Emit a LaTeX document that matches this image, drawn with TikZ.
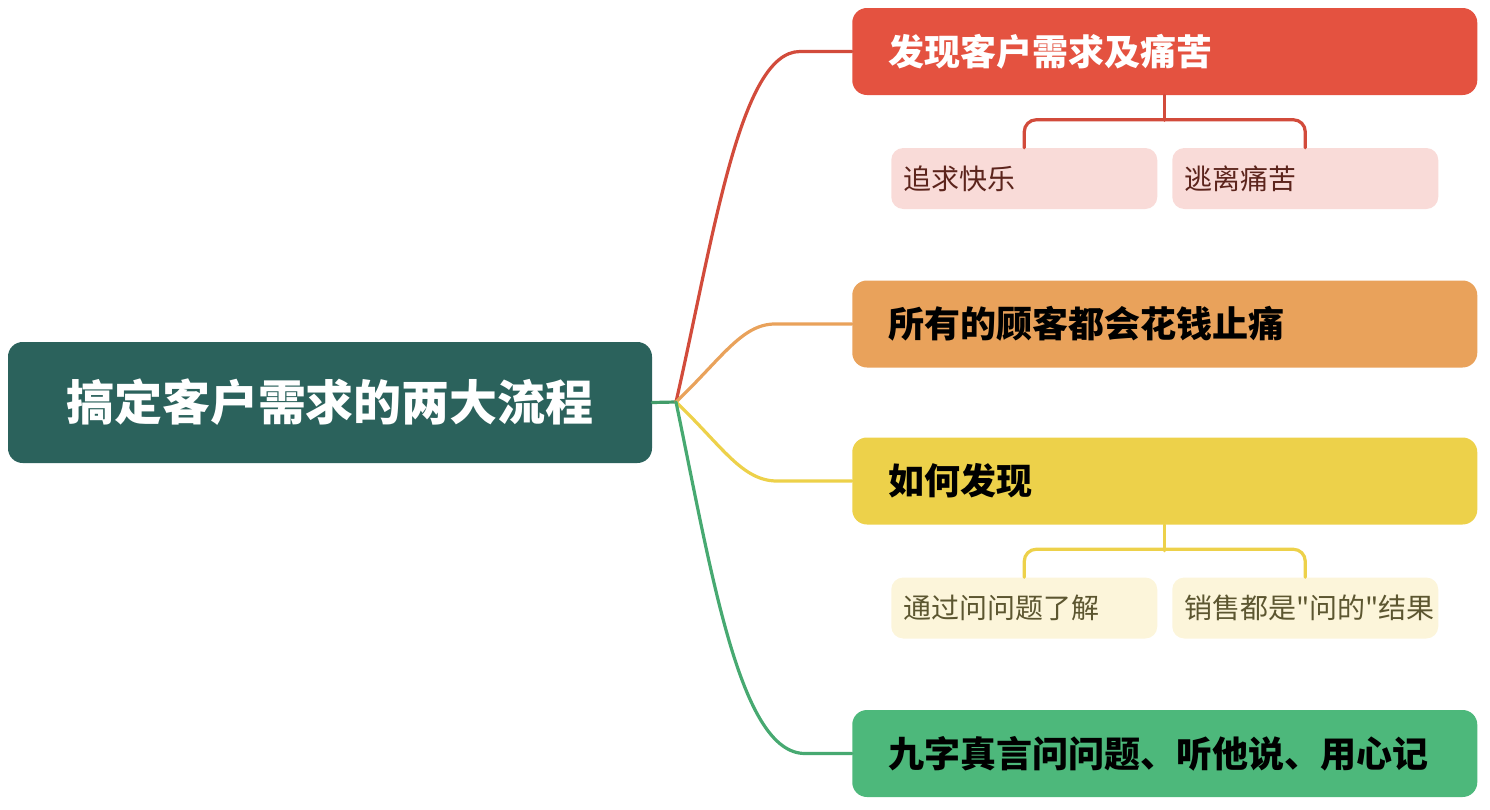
\documentclass[tikz,border=0pt]{standalone}
\usepackage{fontspec}
\setmainfont{Noto Sans CJK SC}[Ligatures=TeXOff]
\definecolor{rootfill}{RGB}{43,98,92}
\definecolor{redfill}{RGB}{228,82,64}
\definecolor{orangefill}{RGB}{233,162,91}
\definecolor{yellowfill}{RGB}{237,209,74}
\definecolor{greenfill}{RGB}{77,184,123}
\definecolor{pinkfill}{RGB}{249,219,216}
\definecolor{creamfill}{RGB}{252,245,218}
\definecolor{redtext}{RGB}{92,36,28}
\definecolor{olivetext}{RGB}{92,86,48}
\tikzset{
  topic/.style={rounded corners=11pt, minimum width=468.75pt, minimum height=65.25pt, inner xsep=27pt, inner ysep=0pt, text width=414.75pt, align=left, anchor=west, font=\bfseries\fontsize{27}{30}\selectfont},
  subtopic/.style={rounded corners=9pt, minimum width=199.5pt, minimum height=45.75pt, inner xsep=9pt, inner ysep=0pt, text width=181.5pt, align=left, anchor=west, font=\fontsize{21}{24}\selectfont},
  link/.style={line width=2.4pt, line cap=round}
}
\begin{document}
\begin{tikzpicture}[x=0.75pt,y=0.75pt,yscale=-1,xscale=1]
\useasboundingbox (0,0) rectangle (1490,810);

%Shape: Root [id:root]
\node [fill=rootfill, text=white, rounded corners=11pt, minimum width=483pt, minimum height=90.75pt, font=\bfseries\fontsize{36}{40}\selectfont] (root) at (330,402.5) {搞定客户需求的两大流程};
\coordinate (hub) at (676,402);

%Shape: Topics
\node [topic, fill=redfill, text=white] (t1) at (852,51.5) {发现客户需求及痛苦};
\node [topic, fill=orangefill, text=black] (t2) at (852,324) {所有的顾客都会花钱止痛};
\node [topic, fill=yellowfill, text=black] (t3) at (852,481) {如何发现};
\node [topic, fill=greenfill, text=black] (t4) at (852,753.5) {九字真言问问题、听他说、用心记};

%Shape: Subtopics
\node [subtopic, fill=pinkfill, text=redtext] (s11) at (891,178.5) {追求快乐};
\node [subtopic, fill=pinkfill, text=redtext] (s12) at (1172,178.5) {逃离痛苦};
\node [subtopic, fill=creamfill, text=olivetext] (s31) at (891,608) {通过问问题了解};
\node [subtopic, fill=creamfill, text=olivetext] (s32) at (1172,608) {销售都是"问的"结果};

%Curve Lines
\draw [link, greenfill!85!black] (root.east) -- (hub);
\draw [link, redfill!92!black] (hub) .. controls (714,235) and (740,51.5) .. (800,51.5) -- (t1.west);
\draw [link, orangefill] (hub) .. controls (722,358) and (742,324) .. (775,324) -- (t2.west);
\draw [link, yellowfill] (hub) .. controls (722,446) and (742,481) .. (777,481) -- (t3.west);
\draw [link, greenfill!92!black] (hub) .. controls (712,575) and (740,753.5) .. (805,753.5) -- (t4.west);

%Straight Lines
\draw [link, redfill!92!black] (t1.south) -- ++(0,25);
\draw [link, redfill!92!black, rounded corners=9pt] (s11.north) -- ++(0,-28) -| (s12.north);
\draw [link, yellowfill] (t3.south) -- ++(0,26);
\draw [link, yellowfill, rounded corners=9pt] (s31.north) -- ++(0,-28) -| (s32.north);

\end{tikzpicture}
\end{document}
